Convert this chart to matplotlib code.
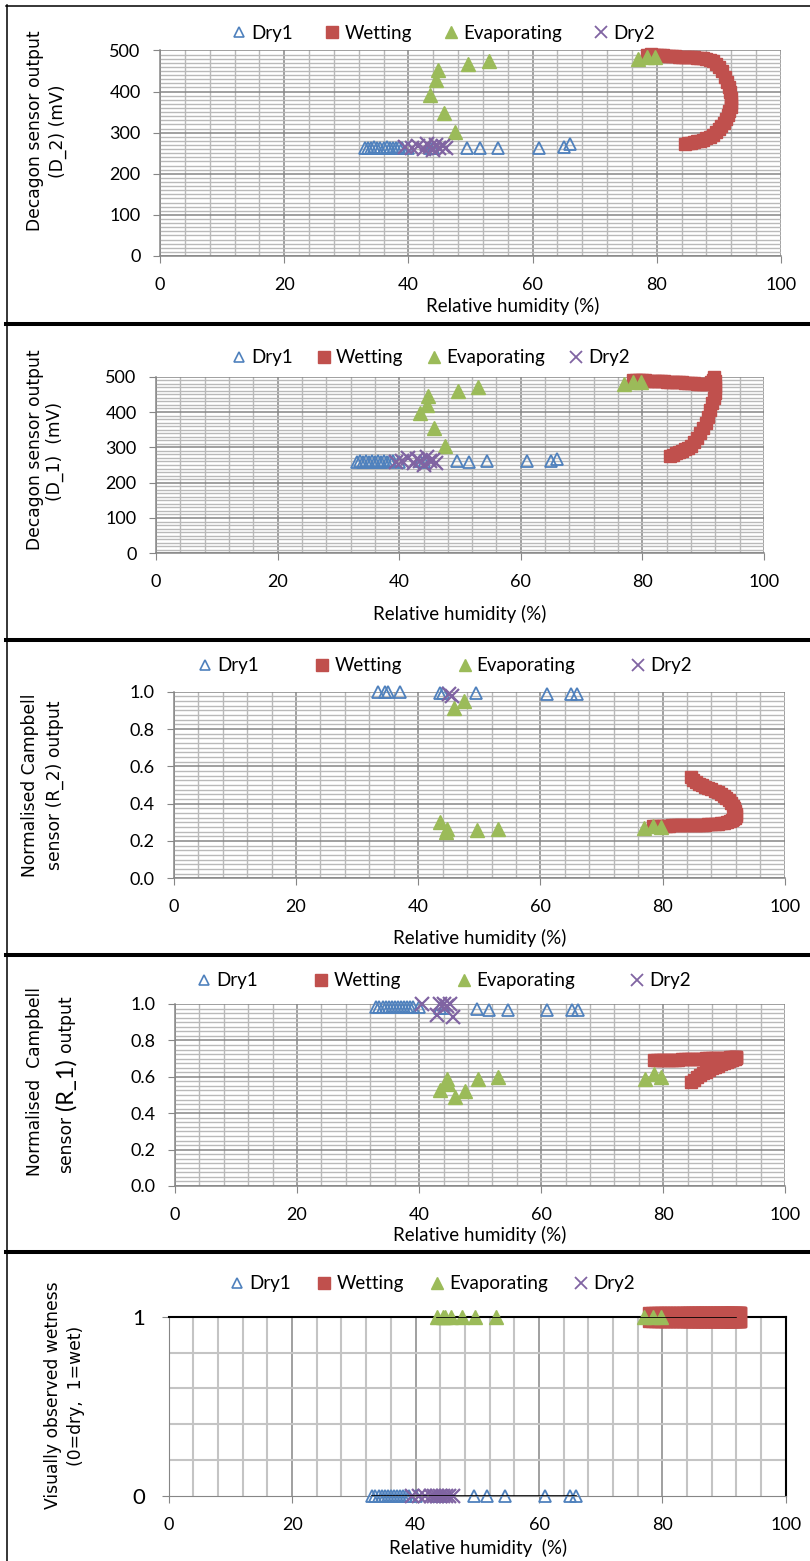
import numpy as np
import matplotlib
matplotlib.use("Agg")
import matplotlib.pyplot as plt
from matplotlib.lines import Line2D
from matplotlib.ticker import MultipleLocator, FormatStrFormatter

W, H = 810, 1561
nan = np.nan

BLUE = "#4F81BD"
RED = "#C0504D"
GREEN = "#9BBB59"
PURPLE = "#8064A2"
GRID_MAJ = "#868686"
GRID_MIN = "#b9b9b9"

TICK_FONT = "Lato"
LAB_FONT = "DejaVu Sans"

# ---------------- data ----------------
# relative humidity (%) of each phase
dry1_rh = [33.0, 33.5, 34.0, 34.5, 35.0, 35.5, 36.0, 36.5, 37.0, 37.5, 38.0,
           38.5, 39.0, 40.0, 43.5, 44.0, 49.5, 51.5, 54.5, 61.0, 65.0, 66.0]
dry2_rh = [39.5, 40.5, 41.5, 42.5, 43.0, 43.5, 44.0, 44.5, 45.0, 45.5, 46.0]
evap_rh = [43.5, 44.5, 44.7, 45.8, 47.5, 49.6, 53.0, 77.0, 78.5, 79.7]
wet_rh = [78.5, 79.0, 79.5, 80.0, 80.5, 81.0, 81.5, 82.0, 82.5, 83.0,
          83.5, 84.0, 84.5, 85.0, 85.5, 86.0, 86.5, 87.0, 87.5, 88.0,
          88.5, 89.0, 89.5, 90.0, 90.5, 91.0, 91.3, 91.6, 91.8, 92.0,
          92.0, 91.9, 91.7, 91.5, 91.2, 90.8, 90.4, 90.0, 89.5, 89.0,
          88.5, 88.0, 87.5, 87.0, 86.5, 86.0, 85.5, 85.0, 84.6]

# Decagon D_2 (mV)
d2_dry1 = [262, 263, 262, 264, 262, 263, 262, 264, 262, 263, 262,
           264, 263, 262, 263, 262, 263, 262, 263, 263, 265, 272]
d2_dry2 = [265, 262, 268, 260, 272, 265, 258, 270, 262, 268, 263]
d2_evap = [392, 428, 452, 347, 302, 466, 474, 480, 485, 483]
d2_wet = [490, 491, 490, 489, 488, 488, 487, 487, 486, 486,
          485, 485, 484, 484, 483, 483, 482, 482, 481, 480,
          478, 474, 468, 460, 450, 436, 424, 410, 398, 385,
          372, 362, 352, 344, 334, 324, 316, 308, 301, 295,
          290, 286, 283, 281, 279, 277, 275, 274, 273]

# Decagon D_1 (mV)
d1_dry1 = [259, 260, 259, 261, 259, 260, 259, 261, 259, 260, 259,
           261, 260, 259, 260, 259, 260, 259, 260, 260, 262, 268]
d1_dry2 = [258, 262, 270, 255, 268, 262, 250, 272, 260, 265, 255]
d1_evap = [397, 420, 446, 354, 304, 460, 471, 478, 485, 484]
d1_wet = [490, 492, 491, 490, 490, 489, 489, 488, 488, 487,
          487, 486, 486, 485, 485, 484, 484, 483, 483, 482,
          481, 480, 479, 478, 478, 480, 486, 492, 498, 488,
          470, 455, 440, 425, 405, 385, 370, 355, 340, 326,
          314, 305, 299, 295, 291, 287, 283, 279, 276]

# Campbell R_2 (normalised)
r2_dry1 = [nan, 1.0, nan, 1.0, 1.0, nan, nan, nan, 1.0, nan, nan,
           nan, nan, nan, 0.995, 0.995, 0.995, nan, nan, 0.985, 0.985, 0.985]
r2_dry2 = [nan, nan, nan, nan, nan, nan, nan, nan, 0.985, 0.975, nan]
r2_evap = [0.30, 0.25, 0.265, 0.915, 0.95, 0.26, 0.265, 0.27, 0.28, 0.275]
r2_wet = [0.280, 0.280, 0.281, 0.281, 0.282, 0.282, 0.283, 0.283, 0.284, 0.284,
          0.285, 0.285, 0.286, 0.286, 0.287, 0.287, 0.288, 0.288, 0.289, 0.290,
          0.291, 0.293, 0.295, 0.298, 0.301, 0.305, 0.310, 0.316, 0.323, 0.332,
          0.345, 0.360, 0.375, 0.390, 0.405, 0.420, 0.432, 0.443, 0.453, 0.462,
          0.470, 0.477, 0.484, 0.491, 0.498, 0.505, 0.514, 0.527, 0.542]

# Campbell R_1 (normalised)
r1_dry1 = [0.985, 0.985, 0.985, 0.985, 0.985, 0.985, 0.985, 0.985, 0.985, 0.985, 0.985,
           0.985, 0.985, 0.985, 0.98, 0.98, 0.975, 0.965, 0.965, 0.965, 0.965, 0.965]
r1_dry2 = [nan, 1.0, nan, nan, 0.94, 1.0, 1.0, 0.99, 1.0, 0.93, nan]
r1_evap = [0.527, 0.59, 0.56, 0.49, 0.52, 0.59, 0.60, 0.59, 0.615, 0.60]
r1_wet = [0.690, 0.690, 0.691, 0.692, 0.692, 0.693, 0.694, 0.694, 0.695, 0.696,
          0.696, 0.697, 0.698, 0.698, 0.699, 0.700, 0.700, 0.701, 0.702, 0.702,
          0.703, 0.704, 0.704, 0.705, 0.706, 0.707, 0.708, 0.709, 0.710, 0.711,
          0.708, 0.704, 0.700, 0.696, 0.691, 0.686, 0.681, 0.675, 0.668, 0.661,
          0.654, 0.646, 0.638, 0.629, 0.619, 0.608, 0.597, 0.585, 0.573]

# visually observed wetness (0 = dry, 1 = wet)
vis_dry1 = [0, 0, 0, 0, 0, 0, 0, 0, 0, 0, 0, 0, 0, 0, 0, 0, 0, 0, 0, 0, 0, 0]
vis_dry2 = [0, 0, 0, 0, 0, 0, 0, 0, 0, 0, 0]
vis_evap = [1, 1, 1, 1, 1, 1, 1, 1, 1, 1]
vis_wet = [1, 1, 1, 1, 1, 1, 1, 1, 1, 1, 1, 1, 1, 1, 1, 1, 1, 1, 1, 1,
           1, 1, 1, 1, 1, 1, 1, 1, 1, 1, 1, 1, 1, 1, 1, 1, 1, 1, 1, 1,
           1, 1, 1, 1, 1, 1, 1, 1, 1]

series_labels = ["Dry1", "Wetting", "Evaporating", "Dry2"]


fig = plt.figure(figsize=(W / 100, H / 100), dpi=100)


def add_ax(x0, x1, ytop, ybot):
    return fig.add_axes([x0 / W, 1 - ybot / H, (x1 - x0) / W, (ybot - ytop) / H])


def fig_xy(x, y):
    return x / W, 1 - y / H


def plot_series(ax, ys, wet_ms=9):
    y_dry1, y_wet, y_evap, y_dry2 = ys
    ax.plot(dry1_rh, y_dry1, ls="none", marker="^", ms=8, mfc="none", mec=BLUE,
            mew=1.3, clip_on=False, zorder=3)
    ax.plot(wet_rh, y_wet, ls="none", marker="s", ms=wet_ms, color=RED,
            mec=RED, clip_on=False, zorder=4)
    ax.plot(evap_rh, y_evap, ls="none", marker="^", ms=10, color=GREEN,
            mec=GREEN, clip_on=False, zorder=5)
    ax.plot(dry2_rh, y_dry2, ls="none", marker="x", ms=10, color=PURPLE,
            mew=1.6, clip_on=False, zorder=6)


def style_axes(ax, ymax, ymajor, yminor, yfmt):
    ax.set_xlim(0, 100)
    ax.set_ylim(0, ymax)
    ax.xaxis.set_major_locator(MultipleLocator(20))
    ax.xaxis.set_minor_locator(MultipleLocator(4))
    ax.yaxis.set_major_locator(MultipleLocator(ymajor))
    ax.yaxis.set_minor_locator(MultipleLocator(yminor))
    ax.yaxis.set_major_formatter(FormatStrFormatter(yfmt))
    ax.grid(which="minor", color=GRID_MIN, lw=1.0)
    ax.grid(which="major", color=GRID_MAJ, lw=1.1)
    ax.set_axisbelow(True)
    for s in ["top", "right"]:
        ax.spines[s].set_visible(False)
    for s in ["left", "bottom"]:
        ax.spines[s].set_color(GRID_MAJ)
        ax.spines[s].set_linewidth(1.1)
    ax.tick_params(which="minor", length=0)
    ax.tick_params(axis="x", which="major", direction="out", length=5,
                   color=GRID_MAJ, pad=10)
    ax.tick_params(axis="y", which="major", direction="out", length=5,
                   color=GRID_MAJ, pad=9)
    for lab in ax.get_xticklabels() + ax.get_yticklabels():
        lab.set_fontfamily(TICK_FONT)
        lab.set_fontsize(13)


def add_legend(ax, left_px, y_px, colsp):
    handles = [
        Line2D([], [], ls="none", marker="^", ms=7, mfc="none", mec=BLUE, mew=1.2),
        Line2D([], [], ls="none", marker="s", ms=9, color=RED),
        Line2D([], [], ls="none", marker="^", ms=8, color=GREEN),
        Line2D([], [], ls="none", marker="x", ms=8, color=PURPLE, mew=1.3),
    ]
    ax.legend(handles, series_labels, loc="center left",
              bbox_to_anchor=fig_xy(left_px, y_px), bbox_transform=fig.transFigure,
              ncol=4, frameon=False, borderpad=0, handlelength=0.7,
              handletextpad=0.3, columnspacing=colsp,
              prop={"family": TICK_FONT, "size": 13.5})


def xlabel(x, y, text="Relative humidity (%)"):
    fig.text(*fig_xy(x, y), text, ha="center", va="center",
             family=TICK_FONT, fontsize=13.5)


def ylabel(x, y, text, size=12.3):
    fig.text(*fig_xy(x, y), text, ha="center", va="center", rotation=90,
             family=LAB_FONT, fontsize=size)


# ---------------- panel 1: D_2 ----------------
ax1 = add_ax(160, 781, 50.5, 256)
plot_series(ax1, [d2_dry1, d2_wet, d2_evap, d2_dry2])
style_axes(ax1, 500, 100, 10, "%d")
add_legend(ax1, 223.5, 33, 1.73)
xlabel(513, 306)
ylabel(34.7, 131, "Decagon sensor output")
ylabel(57.8, 131, "(D_2) (mV)")

# ---------------- panel 2: D_1 ----------------
ax2 = add_ax(156, 764, 376.7, 553.3)
plot_series(ax2, [d1_dry1, d1_wet, d1_evap, d1_dry2])
style_axes(ax2, 500, 100, 10, "%d")
add_legend(ax2, 223.5, 358, 1.28)
xlabel(460, 614)
ylabel(34.7, 450, "Decagon sensor output")
ylabel(55.2, 451, "(D_1)  (mV)")

# ---------------- panel 3: R_2 ----------------
ax3 = add_ax(173.8, 784.8, 691.7, 878.3)
plot_series(ax3, [r2_dry1, r2_wet, r2_evap, r2_dry2])
style_axes(ax3, 1.0, 0.2, 0.025, "%.1f")
add_legend(ax3, 189.5, 666, 3.0)
xlabel(480, 938)
ylabel(29.6, 785.6, "Normalised Campbell")
ylabel(55.2, 785, "sensor (R_2) output")

# ---------------- panel 4: R_1 ----------------
ax4 = add_ax(175, 785.3, 1004, 1186)
plot_series(ax4, [r1_dry1, r1_wet, r1_evap, r1_dry2])
style_axes(ax4, 1.0, 0.2, 0.025, "%.1f")
add_legend(ax4, 188.5, 981, 3.0)
xlabel(480, 1235)
ylabel(34.7, 1081, "Normalised  Campbell")

# second line with a larger "(R_1)", stacked bottom to top
renderer = fig.canvas.get_renderer()
y_cur = 1173
for txt, fam, size in [("sensor", LAB_FONT, 12.3), ("(R_1)", TICK_FONT, 17),
                       ("output", LAB_FONT, 12.3)]:
    t = fig.text(*fig_xy(66, y_cur), txt, rotation=90, ha="center",
                 va="bottom", family=fam, fontsize=size)
    bb = t.get_window_extent(renderer)
    y_cur -= bb.height + 6

# ---------------- panel 5: visual ----------------
ax5 = add_ax(168.7, 785.8, 1316.7, 1495.7)
plot_series(ax5, [vis_dry1, vis_wet, vis_evap, vis_dry2], wet_ms=14)
ax5.plot([min(dry1_rh), max(dry1_rh)], [0, 0], color="black", lw=1.2, zorder=7)
ax5.plot([min(evap_rh), max(wet_rh)], [1, 1], color="black", lw=1.2, zorder=7)
ax5.set_xlim(0, 100)
ax5.set_ylim(0, 1)
ax5.xaxis.set_major_locator(MultipleLocator(20))
ax5.xaxis.set_minor_locator(MultipleLocator(4))
ax5.set_yticks([0, 1])
ax5.yaxis.set_minor_locator(MultipleLocator(0.2))
ax5.grid(which="minor", color="#c4c4c4", lw=1.5)
ax5.grid(which="major", axis="x", color=GRID_MAJ, lw=1.1)
ax5.set_axisbelow(True)
ax5.spines["top"].set_color("black")
ax5.spines["top"].set_linewidth(1.5)
ax5.spines["right"].set_color("black")
ax5.spines["right"].set_linewidth(1.5)
for s in ["left", "bottom"]:
    ax5.spines[s].set_color(GRID_MAJ)
ax5.tick_params(which="minor", length=0)
ax5.tick_params(axis="x", which="major", direction="out", length=5,
                color=GRID_MAJ, pad=10)
ax5.tick_params(axis="y", which="major", direction="out", length=5,
                color=GRID_MAJ, pad=12)
for lab in ax5.get_xticklabels():
    lab.set_fontfamily(TICK_FONT)
    lab.set_fontsize(13)
for lab in ax5.get_yticklabels():
    lab.set_fontfamily(TICK_FONT)
    lab.set_fontsize(16)
add_legend(ax5, 221.5, 1284, 1.41)
xlabel(478, 1548, "Relative humidity  (%)")
ylabel(52.7, 1395, "Visually observed wetness")
ylabel(75.8, 1396, "(0=dry,  1=wet)")

# ---------------- panel frames ----------------
fig.add_artist(Line2D([6 / W, 1], [1 - 5.5 / H, 1 - 5.5 / H], color="black", lw=1.1))
fig.add_artist(Line2D([6.5 / W, 6.5 / W], [0, 1 - 5 / H], color="black", lw=1.1))
for ysep in [324, 640, 955, 1252]:
    fig.add_artist(Line2D([6 / W, 1], [1 - ysep / H, 1 - ysep / H], color="black", lw=2.9))

fig.savefig("out.png", dpi=100)
